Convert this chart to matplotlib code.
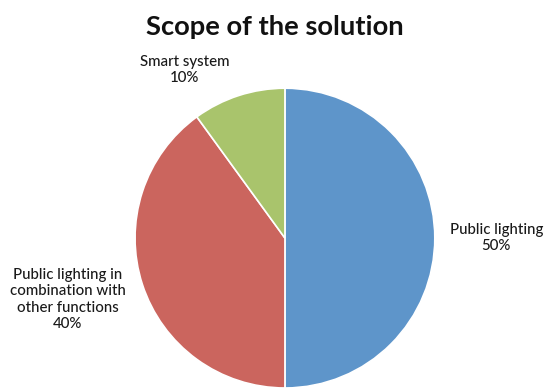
import matplotlib
matplotlib.use("Agg")
import matplotlib.pyplot as plt

categories = ['Public lighting', 'Public lighting in\ncombination with\nother functions', 'Smart system']
shares = [50, 40, 10]
colors = ['#5E95CA', '#CB655E', '#A9C46C']
# label anchor points (pie radius units)
label_pos = [(1.41, 0.0), (-1.45, -0.41), (-0.67, 1.12)]

plt.rcParams['font.family'] = ['Lato', 'DejaVu Sans']

fig = plt.figure(figsize=(5.49, 3.9), dpi=100)
ax = fig.add_axes([0.246, 0.005, 0.546, 0.769])
ax.pie(shares, colors=colors, startangle=90, counterclock=False,
       wedgeprops=dict(edgecolor='white', linewidth=1.2))
ax.set_xlim(-1, 1)
ax.set_ylim(-1, 1)
ax.set_aspect('equal')

for cat, val, (x, y) in zip(categories, shares, label_pos):
    ax.text(x, y, f"{cat}\n{val}%", ha='center', va='center', fontsize=10.8,
            fontweight='medium', color='#1a1a1a', linespacing=1.2, clip_on=False)

fig.text(0.5, 0.932, 'Scope of the solution', ha='center', va='center',
         fontsize=19.7, fontweight='bold', color='#111111')

fig.savefig('out.png', dpi=100)
